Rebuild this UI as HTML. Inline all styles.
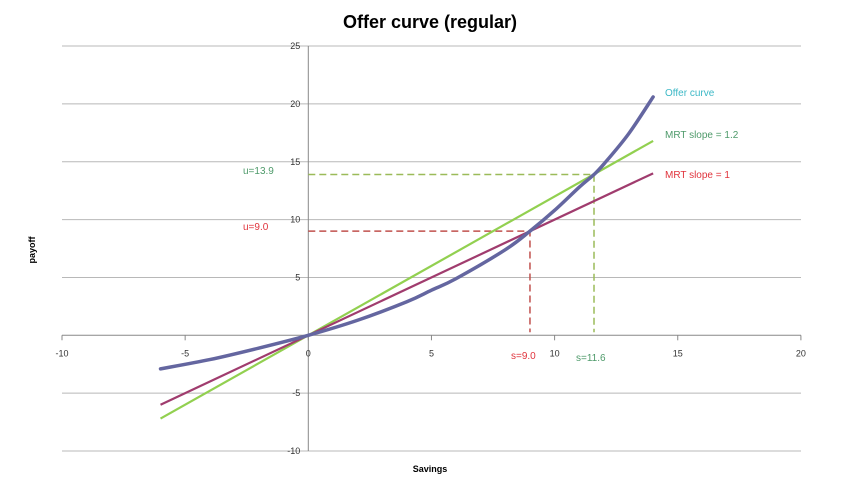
<!DOCTYPE html>
<html><head><meta charset="utf-8"><style>
body{margin:0;background:#fff}
svg{display:block;font-family:"Liberation Sans",sans-serif}
</style></head><body>
<svg id="c" width="859" height="488"></svg>
<script>
const xTicks=[-10,-5,0,5,10,15,20];
const yTicks=[-10,-5,0,5,10,15,20,25];
const offerS=[-6,-4,-2,0,2,4,5,6,8,9,10,11,11.6,12,13,14];
const offerU=[-2.9,-2.1,-1.1,0,1.3,2.9,3.9,4.9,7.4,9.0,10.8,12.8,13.9,14.8,17.4,20.6];
const mrt1S=[-6,14];const mrt1Slope=1;
const mrt2S=[-6,14];const mrt2Slope=1.2;
const sol1=[9.0,9.0];const sol2=[11.6,13.9];
const X=v=>308.3+v*24.63, Y=v=>335.3-v*11.57;
const svg=document.getElementById('c');const NS='http://www.w3.org/2000/svg';
function el(t,a,txt){const e=document.createElementNS(NS,t);for(const k in a)e.setAttribute(k,a[k]);if(txt!=null)e.textContent=txt;svg.appendChild(e);return e;}
let e;
e=el('text',{x:430,y:28,'text-anchor':'middle','font-size':18,'font-weight':'bold'},'Offer curve (regular)');


yTicks.forEach(v=>{if(v===0)return;e=el('line',{x1:62,x2:801,y1:Y(v),y2:Y(v),stroke:'#b8b8b8','stroke-width':1});


e=el('text',{x:X(0)-8,y:Y(v)+3,'text-anchor':'end','font-size':9,fill:'#333'},v);

});
e=el('line',{x1:62,x2:801,y1:Y(0),y2:Y(0),stroke:'#888'});


e=el('line',{x1:X(0),x2:X(0),y1:Y(25),y2:Y(-10),stroke:'#888'});


xTicks.forEach(v=>{el('line',{x1:X(v),x2:X(v),y1:Y(0),y2:Y(0)+5,stroke:'#888'});
e=el('text',{x:X(v),y:Y(0)+21,'text-anchor':'middle','font-size':9,fill:'#333'},v);

});
e=el('text',{x:430,y:472,'text-anchor':'middle','font-size':9,'font-weight':'bold'},'Savings');


e=el('text',{x:0,y:0,transform:'translate(35,250) rotate(-90)','text-anchor':'middle','font-size':9,'font-weight':'bold'},'payoff');


e=el('polyline',{points:`${X(0)},${Y(sol1[1])} ${X(sol1[0])},${Y(sol1[1])} ${X(sol1[0])},${Y(0)-3}`,fill:'none',stroke:'#c0504d','stroke-width':1.5,'stroke-dasharray':'7,4'});


e=el('polyline',{points:`${X(0)},${Y(sol2[1])} ${X(sol2[0])},${Y(sol2[1])} ${X(sol2[0])},${Y(0)-3}`,fill:'none',stroke:'#9bbb59','stroke-width':1.5,'stroke-dasharray':'7,4'});


e=el('line',{x1:X(mrt2S[0]),y1:Y(mrt2S[0]*mrt2Slope),x2:X(mrt2S[1]),y2:Y(mrt2S[1]*mrt2Slope),stroke:'#92d050','stroke-width':2.2});


e=el('line',{x1:X(mrt1S[0]),y1:Y(mrt1S[0]*mrt1Slope),x2:X(mrt1S[1]),y2:Y(mrt1S[1]*mrt1Slope),stroke:'#a03c6e','stroke-width':2.2});


const pts=offerS.map((s,i)=>[X(s),Y(offerU[i])]);
let d='M'+pts[0][0]+','+pts[0][1];
for(let i=0;i<pts.length-1;i++){const p0=pts[Math.max(0,i-1)],p1=pts[i],p2=pts[i+1],p3=pts[Math.min(pts.length-1,i+2)];
d+=` C${p1[0]+(p2[0]-p0[0])/6},${p1[1]+(p2[1]-p0[1])/6} ${p2[0]-(p3[0]-p1[0])/6},${p2[1]-(p3[1]-p1[1])/6} ${p2[0]},${p2[1]}`;}
e=el('path',{d:d,fill:'none',stroke:'#6466a0','stroke-width':3.5,'stroke-linecap':'round'});


const labels=[[665,96,'#3cb8c6','Offer curve','legend-offer-curve'],[665,138,'#4e9a6a','MRT slope = 1.2','legend-mrt-1.2'],[665,178,'#e0333c','MRT slope = 1','legend-mrt-1'],
[243,174,'#4e9a6a','u=13.9','label-u-13.9'],[243,230,'#e0333c','u=9.0','label-u-9.0'],[511,359,'#e0333c','s=9.0','label-s-9.0'],[576,361,'#4e9a6a','s=11.6','label-s-11.6']];
labels.forEach(l=>{e=el('text',{x:l[0],y:l[1],'font-size':10,fill:l[2]},l[3]);

});
</script>
</body></html>
